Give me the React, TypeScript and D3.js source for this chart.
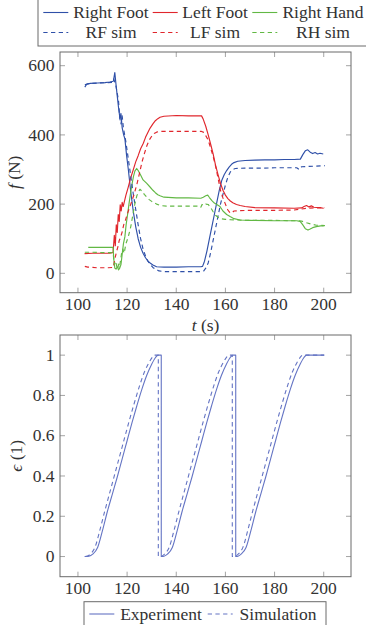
import React from 'react';
import * as d3 from 'd3';

type Pt = [number, number];

// Tick values
const timeTicks = [100, 120, 140, 160, 180, 200];
const forceTicks = [0, 200, 400, 600];
const epsTicks = [0, 0.2, 0.4, 0.6, 0.8, 1];
const epsTickLabels = ['0', '0.2', '0.4', '0.6', '0.8', '1'];

// Contact forces, experiment [t (s), f (N)]
const rightFoot: Pt[] = [
  [102.8, 538], [103.5, 546], [105, 549], [108, 550], [111, 551], [113, 553], [114.4, 555],
  [115, 580], [115.5, 545], [116, 512], [116.5, 480], [117.1, 447], [117.5, 462], [118, 420],
  [118.6, 400], [119.1, 389], [119.8, 340], [120.5, 300], [121.5, 235], [122.5, 180],
  [123.5, 135], [124.5, 100], [125.5, 75], [126.5, 58], [127.5, 45], [128.5, 35], [129.5, 29],
  [130.5, 24], [132, 19], [135, 18], [140, 18], [145, 19], [150, 19], [150.7, 20],
  [151.5, 35], [152.5, 65], [153.5, 100], [154.5, 135], [155.5, 170], [156.5, 205],
  [157.5, 240], [158.5, 268], [159.5, 285], [160.5, 297], [161.5, 307], [162.5, 315],
  [163.5, 320], [165, 324], [168, 326], [172, 327], [176, 328], [180, 328], [184, 329],
  [188, 329], [190.5, 330], [191.5, 343], [192.5, 354], [193.5, 357], [194.5, 350],
  [195.5, 346], [196.5, 349], [197.5, 345], [198.5, 347], [199.8, 345],
];
const leftFoot: Pt[] = [
  [102.7, 57], [106, 58], [110, 58], [113, 58], [114.3, 60], [114.8, 110], [115.2, 80],
  [115.6, 140], [116, 118], [116.4, 170], [116.8, 150], [117.2, 198], [117.6, 180],
  [118, 205], [118.4, 193], [119.5, 225], [120.5, 250], [121.5, 277], [122.5, 299],
  [123.5, 322], [124.5, 340], [125.5, 360], [126.6, 376], [127.5, 393], [128.5, 408],
  [129.3, 419], [130.5, 432], [131.5, 441], [132.5, 447], [133.4, 451], [135, 454],
  [140, 456], [145, 455], [150.3, 455], [151, 445], [152, 425], [153, 400], [154, 373],
  [155, 345], [156, 312], [157, 285], [158, 260], [159, 240], [160, 226], [161, 216],
  [162, 209], [163, 204], [164.5, 199], [166, 196], [168, 193], [172, 190], [180, 189],
  [188, 188], [191, 189], [192, 193], [193, 196], [194, 192], [195, 195], [196, 191],
  [198, 190], [200, 188],
];
const rightHand: Pt[] = [
  [104.2, 75], [108, 75], [112, 75], [114.3, 75], [114.6, 40], [115, 15], [115.5, 12],
  [116, 20], [116.5, 10], [117, 15], [117.5, 25], [118, 55], [118.5, 85], [119.1, 106],
  [119.6, 140], [120.2, 170], [120.8, 202], [121.4, 232], [122, 258], [122.6, 280],
  [123.2, 296], [123.9, 303], [124.6, 296], [125.5, 284], [126.5, 270], [128, 260],
  [129.5, 248], [130.5, 240], [131.5, 233], [132.5, 227], [133.4, 224], [135, 220],
  [140, 218], [145, 218], [150, 217], [151, 220], [152, 224], [152.8, 226], [153.5, 219],
  [154.5, 210], [155.5, 203], [156.5, 199], [157.8, 193], [159, 180], [160.5, 170],
  [161.9, 164], [163.5, 158], [165.9, 154], [170, 153], [180, 152], [189, 152],
  [190.4, 150], [191.5, 140], [192.5, 129], [193.6, 125], [194.5, 128], [195.5, 132],
  [197, 135], [198.7, 137], [200, 137],
];

// Contact forces, simulation
const rightFootSim: Pt[] = [
  [102.8, 545], [104, 548], [108, 550], [112, 551], [114, 552], [114.6, 562], [115.5, 540],
  [116.5, 500], [117, 450], [117.5, 432], [118, 455], [118.5, 420], [119.5, 380],
  [120.5, 330], [121.5, 280], [122.5, 230], [123.5, 185], [124.5, 140], [125.5, 100],
  [126.5, 70], [127.5, 50], [128.5, 35], [129.5, 25], [130.5, 17], [131.5, 12], [133, 7],
  [135, 5], [140, 5], [145, 5], [150, 5], [151.2, 7], [152, 15], [153, 30], [154, 60],
  [155, 95], [156, 130], [157, 165], [158, 200], [159, 228], [160, 255], [161, 278],
  [162, 293], [163, 300], [164, 303], [168, 304], [175, 304], [180, 305], [185, 305],
  [189, 305], [190, 300], [191, 308], [194, 309], [197, 310], [200.5, 311],
];
const leftFootSim: Pt[] = [
  [102.8, 20], [104, 18], [106, 17], [108, 16], [110, 16], [112, 16], [114.4, 17],
  [115, 40], [115.6, 60], [116.2, 75], [116.8, 95], [117.4, 105], [118, 120], [118.6, 140],
  [119.2, 150], [120, 170], [121, 190], [122, 210], [123, 232], [124, 258], [125, 288],
  [126, 320], [127, 345], [128, 368], [129, 385], [130, 396], [131, 404], [132, 408],
  [133, 410], [140, 410], [150.3, 410], [151, 408], [152, 398], [153, 385], [154, 362],
  [155, 338], [156, 310], [157, 275], [158, 240], [159, 218], [160, 200], [161, 183],
  [162, 174], [162.8, 176], [163.5, 180], [166, 181], [170, 182], [180, 182], [188, 183],
  [190, 185], [193, 188], [196, 189], [200.5, 190],
];
const rightHandSim: Pt[] = [
  [102.8, 61], [106, 61], [110, 60], [114.3, 60], [114.8, 25], [115.3, 35], [115.8, 20],
  [116.3, 30], [116.8, 15], [117.3, 35], [117.8, 60], [118.3, 70], [118.8, 58],
  [119.5, 85], [120.5, 106], [121.5, 135], [122.5, 175], [123.2, 202], [124, 225],
  [125.2, 243], [126, 238], [127, 228], [128, 220], [129, 213], [130, 208], [131, 204],
  [132, 200], [133.5, 196], [136, 194], [140, 194], [145, 194], [149.5, 194], [150, 191],
  [150.5, 199], [151, 196], [152, 200], [153, 199], [154, 190], [155, 178], [156, 168],
  [157, 162], [158, 158], [160, 156], [162, 155], [165, 154], [170, 153], [180, 153],
  [188, 152], [191, 151], [193, 146], [195, 142], [197, 139], [200.5, 138],
];

// Contact sequence progress ε, one rising stroke per cycle
const epsExperiment: Pt[][] = [
  [[102.7, 0], [104.5, 0.002], [106, 0.012], [108, 0.045], [110, 0.13], [112, 0.225],
   [114, 0.31], [116, 0.395], [118, 0.485], [120, 0.575], [122, 0.665], [124, 0.75],
   [126, 0.83], [128, 0.9], [130, 0.955], [131.5, 0.987], [132.6, 1], [133.9, 1]],
  [[133.9, 0], [135, 0.002], [136.4, 0.012], [138.4, 0.045], [140.4, 0.13], [142.4, 0.225],
   [144.4, 0.31], [146.4, 0.395], [148.4, 0.485], [150.4, 0.575], [152.4, 0.665],
   [154.4, 0.75], [156.4, 0.83], [158.4, 0.9], [160.4, 0.955], [161.9, 0.987], [163, 1],
   [164.2, 1]],
  [[164.2, 0], [165.1, 0.002], [166.4, 0.012], [168.4, 0.045], [170.4, 0.13],
   [172.4, 0.225], [174.4, 0.31], [176.4, 0.395], [178.4, 0.485], [180.4, 0.575],
   [182.4, 0.665], [184.4, 0.75], [186.4, 0.83], [188.4, 0.9], [190.4, 0.955],
   [191.9, 0.987], [193, 1], [200.2, 1]],
];
const epsSimulation: Pt[][] = [
  [[103.2, 0], [104, 0.003], [105, 0.012], [107, 0.048], [109, 0.135], [111, 0.23],
   [113, 0.32], [115, 0.41], [117, 0.5], [119, 0.59], [121, 0.68], [123, 0.765],
   [125, 0.845], [127, 0.915], [129, 0.965], [130.3, 0.99], [131.2, 1], [132.7, 1]],
  [[132.7, 0], [134.2, 0.003], [135.2, 0.012], [137.2, 0.048], [139.2, 0.135],
   [141.2, 0.23], [143.2, 0.32], [145.2, 0.41], [147.2, 0.5], [149.2, 0.59],
   [151.2, 0.68], [153.2, 0.765], [155.2, 0.845], [157.2, 0.915], [159.2, 0.965],
   [160.5, 0.99], [161.4, 1], [162.8, 1]],
  [[162.8, 0], [164.2, 0.003], [165.2, 0.012], [167.2, 0.048], [169.2, 0.135],
   [171.2, 0.23], [173.2, 0.32], [175.2, 0.41], [177.2, 0.5], [179.2, 0.59],
   [181.2, 0.68], [183.2, 0.765], [185.2, 0.845], [187.2, 0.915], [189.2, 0.965],
   [190.5, 0.99], [191.4, 1], [200.2, 1]],
];

const BLUE = '#2f50a8';
const RED = '#e0262c';
const GREEN = '#62b844';
const EPS_BLUE = '#6474c4';
const TEXT = '#333333';
const FRAME = '#6a6a6a';
const TICK = '#9a9a9a';
const FONT = '"Liberation Serif", serif';
const FS = 17.5;
const DASH = '4.3,3.4';

const W = 366;
const H = 625;
const left = 60;
const right = 351;
const top1 = 52;
const bottom1 = 292.7;
const top2 = 335;
const bottom2 = 576.7;

const x = d3.scaleLinear().domain([92.7, 211.1]).range([left, right]);
const yF = d3.scaleLinear().domain([-56, 639.6]).range([bottom1, top1]);
const yE = d3.scaleLinear().domain([-0.1, 1.1]).range([bottom2, top2]);

const forceLine = d3
  .line<Pt>()
  .x((d) => x(d[0]))
  .y((d) => yF(d[1]))
  .curve(d3.curveLinear);

const epsLine = d3
  .line<Pt>()
  .x((d) => x(d[0]))
  .y((d) => yE(d[1]))
  .curve(d3.curveMonotoneX);

// Join the cycles into one path; each new cycle starts with a vertical drop
function cyclePath(cycles: Pt[][]): string {
  return cycles
    .map((c, i) => {
      const p = epsLine(c) || '';
      return i === 0 ? p : 'L' + p.slice(1);
    })
    .join('');
}

function Frame({ y0, y1, yTicks, yScale, yLabels }: {
  y0: number; y1: number; yTicks: number[]; yScale: (v: number) => number; yLabels: string[];
}) {
  const tl = 5;
  return (
    <g>
      {timeTicks.map((t) => (
        <g key={'xt' + t}>
          <line x1={x(t)} x2={x(t)} y1={y1} y2={y1 - tl} stroke={TICK} strokeWidth={0.9} />
          <line x1={x(t)} x2={x(t)} y1={y0} y2={y0 + tl} stroke={TICK} strokeWidth={0.9} />
        </g>
      ))}
      {yTicks.map((v) => (
        <g key={'yt' + v}>
          <line x1={left} x2={left + tl} y1={yScale(v)} y2={yScale(v)} stroke={TICK} strokeWidth={0.9} />
          <line x1={right} x2={right - tl} y1={yScale(v)} y2={yScale(v)} stroke={TICK} strokeWidth={0.9} />
        </g>
      ))}
      <rect x={left} y={y0} width={right - left} height={y1 - y0} fill="none" stroke={FRAME} strokeWidth={1} />
      {timeTicks.map((t) => (
        <text key={'xl' + t} x={x(t)} y={y1 + 17.5} textAnchor="middle" fontFamily={FONT} fontSize={FS} fill={TEXT}>
          {t}
        </text>
      ))}
      {yTicks.map((v, i) => (
        <text key={'yl' + v} x={54.5} y={yScale(v) + 5.6} textAnchor="end" fontFamily={FONT} fontSize={FS} fill={TEXT}>
          {yLabels[i]}
        </text>
      ))}
    </g>
  );
}

export default function App() {
  const forceSeries = [
    { d: rightFoot, c: BLUE, dash: undefined },
    { d: leftFoot, c: RED, dash: undefined },
    { d: rightHand, c: GREEN, dash: undefined },
    { d: rightFootSim, c: BLUE, dash: DASH },
    { d: leftFootSim, c: RED, dash: DASH },
    { d: rightHandSim, c: GREEN, dash: DASH },
  ];
  const legendCols = [
    { lx: 43.3, tx: 111, c: BLUE, a: 'Right Foot', b: 'RF sim' },
    { lx: 152.7, tx: 215, c: RED, a: 'Left Foot', b: 'LF sim' },
    { lx: 252.3, tx: 323, c: GREEN, a: 'Right Hand', b: 'RH sim' },
  ];
  return (
    <svg width={W} height={H} style={{ position: 'absolute', left: 0, top: 0, background: '#fff' }}>
      <rect x={0} y={0} width={W} height={H} fill="#fff" />

      {/* Force legend */}
      <rect x={38} y={-5} width={334} height={51} fill="#fff" stroke={FRAME} strokeWidth={1} />
      {legendCols.map((l) => (
        <g key={l.a}>
          <line x1={l.lx} x2={l.lx + 25} y1={12.5} y2={12.5} stroke={l.c} strokeWidth={1.1} />
          <text x={l.tx} y={18.2} textAnchor="middle" fontFamily={FONT} fontSize={FS} fill={TEXT}>{l.a}</text>
          <line x1={l.lx} x2={l.lx + 25} y1={32.5} y2={32.5} stroke={l.c} strokeWidth={1.1} strokeDasharray={DASH} />
          <text x={l.tx} y={37.6} textAnchor="middle" fontFamily={FONT} fontSize={FS} fill={TEXT}>{l.b}</text>
        </g>
      ))}

      {/* Force plot */}
      <Frame y0={top1} y1={bottom1} yTicks={forceTicks} yScale={yF} yLabels={forceTicks.map(String)} />
      <g fill="none" strokeLinejoin="round">
        {forceSeries.map((s, i) => (
          <path key={i} d={forceLine(s.d) || ''} stroke={s.c} strokeWidth={1.15} strokeDasharray={s.dash} />
        ))}
      </g>
      <text x={(left + right) / 2} y={331} textAnchor="middle" fontFamily={FONT} fontSize={FS} fill={TEXT}>
        <tspan fontStyle="italic">t</tspan> (s)
      </text>
      <text transform={`translate(19.5, ${(top1 + bottom1) / 2}) rotate(-90)`} textAnchor="middle" fontFamily={FONT} fontSize={FS} fill={TEXT}>
        <tspan fontStyle="italic">f</tspan> (N)
      </text>

      {/* Progress plot */}
      <Frame y0={top2} y1={bottom2} yTicks={epsTicks} yScale={yE} yLabels={epsTickLabels} />
      <g fill="none" strokeLinejoin="round">
        <path d={cyclePath(epsExperiment)} stroke={EPS_BLUE} strokeWidth={1.1} />
        <path d={cyclePath(epsSimulation)} stroke={EPS_BLUE} strokeWidth={1.1} strokeDasharray={DASH} />
      </g>
      <text transform={`translate(22, ${(top2 + bottom2) / 2}) rotate(-90)`} textAnchor="middle" fontFamily={FONT} fontSize={FS} fill={TEXT}>
        <tspan fontStyle="italic">ϵ</tspan> (1)
      </text>

      {/* Progress legend */}
      <rect x={84} y={601.7} width={242} height={30} fill="#fff" stroke={FRAME} strokeWidth={1} />
      <line x1={89.3} x2={114.3} y1={614} y2={614} stroke={EPS_BLUE} strokeWidth={1.1} />
      <text x={161} y={620} textAnchor="middle" fontFamily={FONT} fontSize={FS} fill={TEXT}>Experiment</text>
      <line x1={207.7} x2={232.7} y1={614} y2={614} stroke={EPS_BLUE} strokeWidth={1.1} strokeDasharray={DASH} />
      <text x={278} y={620} textAnchor="middle" fontFamily={FONT} fontSize={FS} fill={TEXT}>Simulation</text>
    </svg>
  );
}
